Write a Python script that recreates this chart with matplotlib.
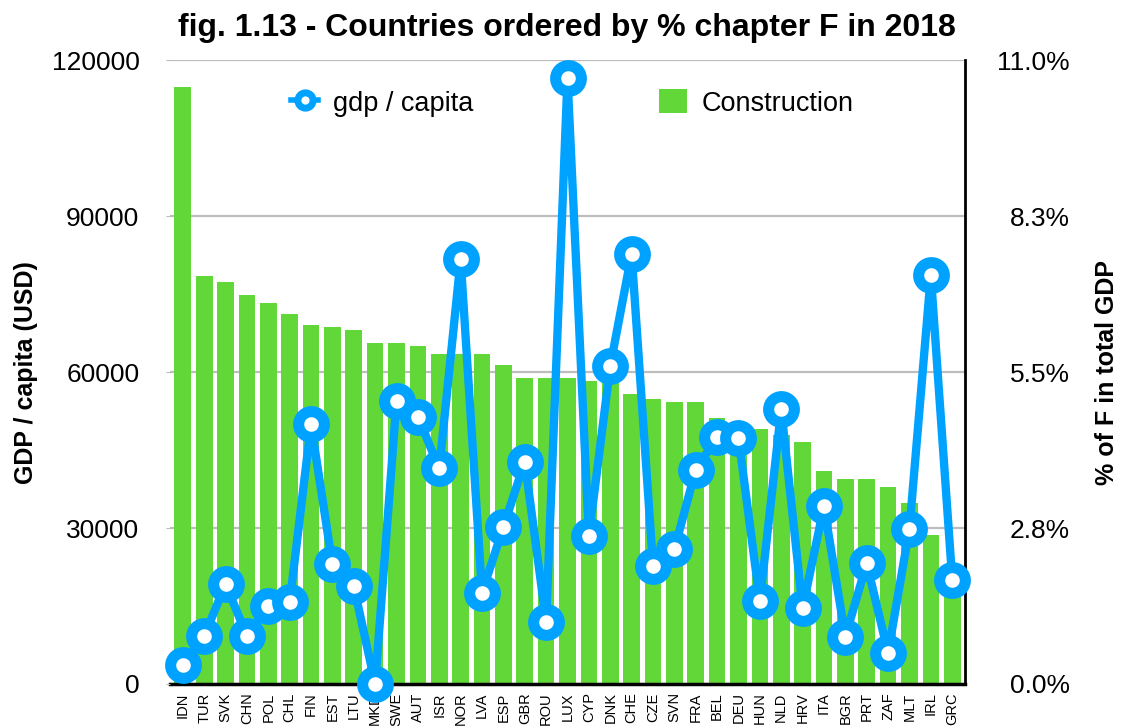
import matplotlib
matplotlib.use("Agg")
import matplotlib.pyplot as plt
from matplotlib.lines import Line2D
from matplotlib.patches import Patch

plt.rcParams['font.family'] = ['Liberation Sans', 'DejaVu Sans']

countries = ["IDN", "TUR", "SVK", "CHN", "POL", "CHL", "FIN", "EST", "LTU", "MKD",
             "SWE", "AUT", "ISR", "NOR", "LVA", "ESP", "GBR", "ROU", "LUX", "CYP",
             "DNK", "CHE", "CZE", "SVN", "FRA", "BEL", "DEU", "HUN", "NLD", "HRV",
             "ITA", "BGR", "PRT", "ZAF", "MLT", "IRL", "GRC"]

construction_pct = [10.54, 7.19, 7.09, 6.87, 6.73, 6.53, 6.34, 6.30, 6.25, 6.02,
                    6.02, 5.97, 5.82, 5.82, 5.82, 5.62, 5.40, 5.40, 5.40, 5.34,
                    5.33, 5.12, 5.03, 4.97, 4.97, 4.69, 4.60, 4.50, 4.40, 4.27,
                    3.75, 3.61, 3.61, 3.47, 3.19, 2.62, 2.00]

gdp_per_capita = [3700, 9200, 19200, 9300, 15000, 15700, 50000, 23000, 18800, 0,
                  54500, 51400, 41500, 81700, 17600, 30200, 42800, 12000, 116700, 28500,
                  61200, 82800, 22800, 25900, 41200, 47500, 47400, 15900, 52900, 14600,
                  34200, 9100, 23200, 6000, 29900, 78700, 20100]

left_ticks = [0, 30000, 60000, 90000, 120000]
left_tick_labels = ["0", "30000", "60000", "90000", "120000"]
right_ticks = [0, 2.75, 5.5, 8.25, 11.0]
right_tick_labels = ["0.0%", "2.8%", "5.5%", "8.3%", "11.0%"]

title = "fig. 1.13 - Countries ordered by % chapter F in 2018"

BLUE = "#00A2FF"
GREEN = "#62D838"
GRID = "#BDBDBD"

fig = plt.figure(figsize=(11.22, 7.26), dpi=100)
rect = [0.1515, 0.0579, 0.7086, 0.8588]
ax2 = fig.add_axes(rect)  # bars (right axis), bottom
ax = fig.add_axes(rect, sharex=ax2)  # line (left axis), on top
ax.set_zorder(ax2.get_zorder() + 1)
ax.patch.set_visible(False)

x = list(range(len(countries)))

# bars on right axis
ax2.bar(x, construction_pct, width=0.78, color=GREEN, zorder=2)
ax2.set_ylim(0, 11.0)
ax2.set_yticks(right_ticks)
ax2.set_yticklabels(right_tick_labels)
ax2.yaxis.tick_right()
ax2.yaxis.set_label_position("right")
ax2.tick_params(axis='y', length=0, labelsize=19, pad=75.6)
for lab in ax2.get_yticklabels():
    lab.set_horizontalalignment('right')
ax2.set_axisbelow(True)
ax2.yaxis.grid(True, color=GRID, linewidth=1.6)
ax2.set_ylabel("% of F in total GDP", fontsize=18, fontweight='bold')
ax2.yaxis.set_label_coords(1.164, 0.5)

for s in ["top", "left"]:
    ax2.spines[s].set_visible(False)
ax2.spines["right"].set_linewidth(2)
ax2.spines["bottom"].set_linewidth(2.5)
ax2.spines["right"].set_color("black")

# line on left axis
ax.plot(x, gdp_per_capita, color=BLUE, linewidth=6, marker='o', markersize=18.5,
        markerfacecolor='white', markeredgecolor=BLUE, markeredgewidth=8,
        clip_on=False, zorder=5)
ax.set_ylim(0, 120000)
ax.set_yticks(left_ticks)
ax.set_yticklabels(left_tick_labels)
ax.tick_params(axis='y', length=3, color=GRID, labelsize=19, pad=19)
ax.set_ylabel("GDP / capita (USD)", fontsize=18, fontweight='bold')
ax.yaxis.set_label_coords(-0.166, 0.5)
for s in ["top", "right", "left", "bottom"]:
    ax.spines[s].set_visible(False)

ax.set_xlim(-0.6, len(countries) - 0.4)
ax.set_xticks(x)
ax.set_xticklabels(countries, rotation=90, fontsize=10.5)
ax.tick_params(axis='x', length=0, pad=6)
ax2.tick_params(axis='x', length=0, labelbottom=False)

fig.text(0.505, 0.962, title, fontsize=23, fontweight='bold', ha='center', va='center')

handles = [Line2D([0], [0], color=BLUE, linewidth=4, marker='o', markersize=11,
                  markerfacecolor='white', markeredgecolor=BLUE, markeredgewidth=5),
           Patch(facecolor=GREEN, edgecolor='none')]
leg = ax.legend(handles, ["gdp / capita", "Construction"], ncol=2, frameon=False,
                fontsize=19.5, loc='center', bbox_to_anchor=(0.506, 0.932),
                columnspacing=6.87, handlelength=1.0, handletextpad=0.55,
                handleheight=1.0)

fig.savefig("out.png", dpi=100)
